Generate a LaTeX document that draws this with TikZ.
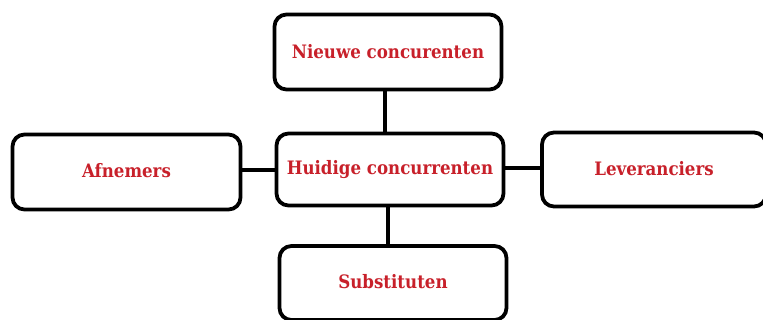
\documentclass[tikz,border=0pt]{standalone}
\usepackage{fontspec}
\newfontfamily\boxfont{DejaVu Serif Condensed}[BoldFont={DejaVu Serif Condensed Bold}]
\definecolor{boxred}{RGB}{200,32,42}
\begin{document}
\begin{tikzpicture}[x=1pt,y=-1pt,
  box/.style={draw=black, line width=3.8pt, rounded corners=12pt, fill=white,
    inner sep=0pt, font=\boxfont\bfseries\fontsize{18.5}{21}\selectfont, text=boxred},
  link/.style={draw=black, line width=3.8pt}]
\clip (0,0) rectangle (763,320);
\fill[white] (0,0) rectangle (763,320);
\node[box, minimum width=227pt, minimum height=75pt] (top) at (388,52) {\raisebox{2pt}{Nieuwe concurenten}};
\node[box, minimum width=227pt, minimum height=72pt] (mid) at (390,169.5) {Huidige concurrenten};
\node[box, minimum width=228pt, minimum height=75pt] (left) at (126.5,172) {\raisebox{3pt}{Afnemers}};
\node[box, minimum width=224pt, minimum height=74pt] (right) at (654,169.5) {\raisebox{2pt}{Leveranciers}};
\node[box, minimum width=227pt, minimum height=74pt] (bot) at (393,283) {\raisebox{3pt}{Substituten}};
\draw[link] (top.south -| 385,0) -- (mid.north -| 385,0);
\draw[link] (mid.south -| 388,0) -- (bot.north -| 388,0);
\draw[link] (left.east |- 0,170) -- (mid.west |- 0,170);
\draw[link] (mid.east |- 0,168) -- (right.west |- 0,168);
\end{tikzpicture}
\end{document}
